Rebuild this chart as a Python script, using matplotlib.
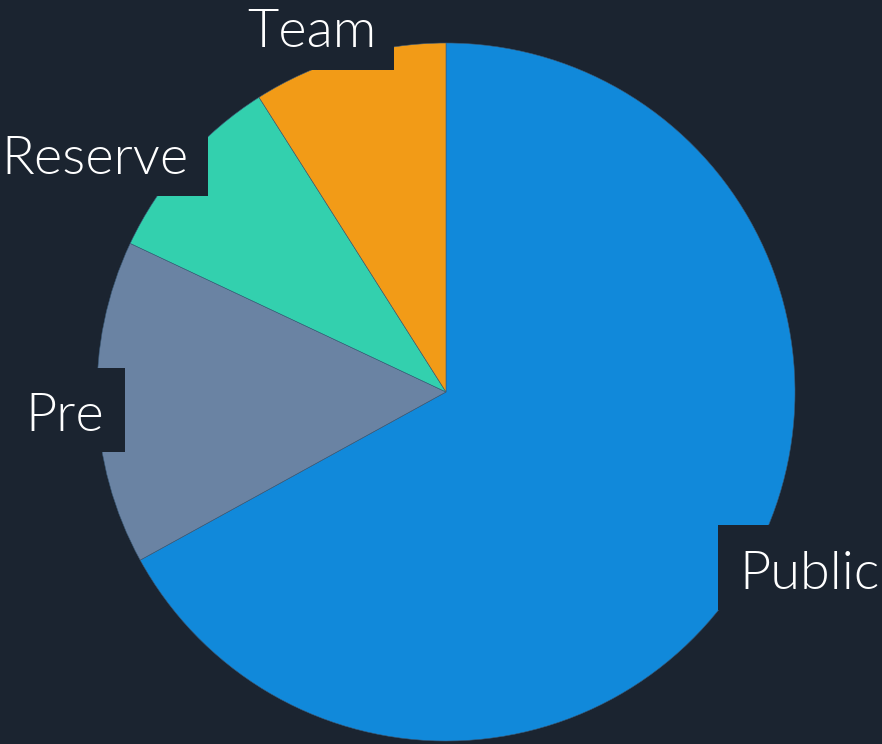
import matplotlib.pyplot as plt
from matplotlib.patches import Rectangle

labels = ["Public", "Pre", "Reserve", "Team"]
shares = [67, 15, 9, 9]
colors = ["#1189da", "#6a83a3", "#33d0ae", "#f29b17"]

bg = "#1b2430"

# label layout in pixels: text baseline centre and backing box (x0, y0, x1, y1)
label_px = [(810, 589), (65, 431), (95, 174), (312, 47)]
box_px = [(718, 525, 900, 610), (4, 368, 125, 452),
          (-20, 112, 208, 196), (230, -20, 394, 70)]

W, H = 882, 744
cx, cy, r = 446, 392, 349


def to_data(px, py):
    return (px - cx) / r, (cy - py) / r


fig = plt.figure(figsize=(W / 100, H / 100), dpi=100, facecolor=bg)
ax = fig.add_axes([0, 0, 1, 1])
ax.set_facecolor(bg)

ax.pie(shares, colors=colors, startangle=90, counterclock=False,
       radius=1, wedgeprops={"edgecolor": "#3a5a78", "linewidth": 0.4})

ax.set_xlim(-cx / r, (W - cx) / r)
ax.set_ylim(-(H - cy) / r, cy / r)
ax.axis("off")

for name, (px, py), (x0, y0, x1, y1) in zip(labels, label_px, box_px):
    bx, by = to_data(x0, y1)
    ax.add_patch(Rectangle((bx, by), (x1 - x0) / r, (y1 - y0) / r,
                           facecolor=bg, edgecolor="none", zorder=3))
    tx, ty = to_data(px, py)
    ax.text(tx, ty, name, ha="center", va="baseline", zorder=4,
            fontsize=39, color="white", family="Lato", fontweight=300)

fig.savefig("out.png", dpi=100, facecolor=bg)
